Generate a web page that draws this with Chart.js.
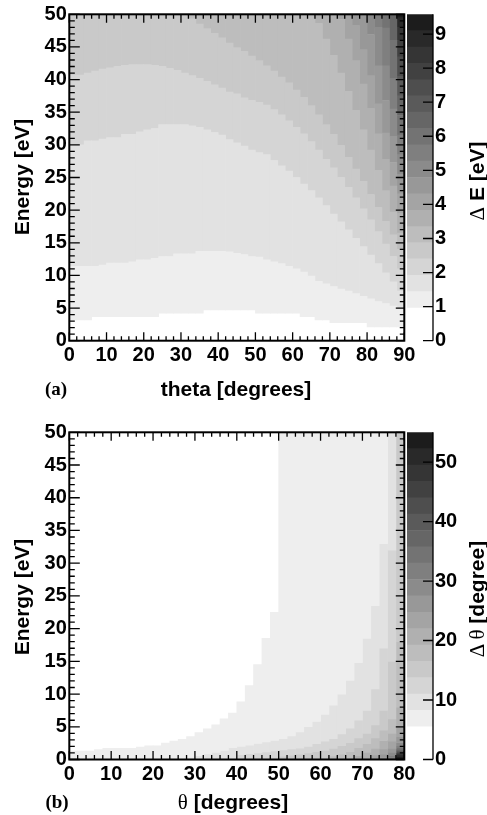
<!DOCTYPE html>
<html>
<head>
<meta charset="utf-8">
<script src="https://cdn.jsdelivr.net/npm/chart.js@4.4.1/dist/chart.umd.min.js"></script>
<style>
html,body{margin:0;padding:0;background:#fff;}
#page{position:relative;width:487px;height:815px;overflow:hidden;font-family:'Liberation Sans',Arial,sans-serif;}
canvas{position:absolute;}
.t{position:absolute;white-space:nowrap;font-weight:bold;font-size:21px;line-height:1;color:#000;transform:translate(-50%,-50%);}
.r{transform:translate(-50%,-50%) rotate(-90deg);}
.sym{font-family:'Liberation Serif',serif;font-weight:normal;}
.lab{font-family:'Liberation Serif',serif;font-size:19px;}
</style>
</head>
<body>
<div id="page">
<canvas id="mainA" width="440" height="410" style="left:0;top:0"></canvas>
<canvas id="mainB" width="440" height="405" style="left:0;top:410px"></canvas>
<canvas id="barA" width="81" height="410" style="left:406px;top:0"></canvas>
<canvas id="barB" width="81" height="405" style="left:406px;top:410px"></canvas>
<div class="t r" style="left:21px;top:177px">Energy [eV]</div>
<div class="t" style="left:236px;top:388px">theta [degrees]</div>
<div class="t lab" style="left:56px;top:388px">(a)</div>
<div class="t r" style="left:477px;top:181px"><span class="sym">&Delta;</span> E [eV]</div>
<div class="t r" style="left:21px;top:597px">Energy [eV]</div>
<div class="t" style="left:233px;top:802px"><span class="sym">&theta;</span> [degrees]</div>
<div class="t lab" style="left:57px;top:801px">(b)</div>
<div class="t r" style="left:477px;top:599px"><span class="sym">&Delta; &theta;</span> [degree]</div>
</div>
<script>
// ---------- axis ticks ----------
const energyTicks = [0,5,10,15,20,25,30,35,40,45,50];
const thetaTicksA = [0,10,20,30,40,50,60,70,80,90];
const thetaTicksB = [0,10,20,30,40,50,60,70,80];
const zTicksA = [0,1,2,3,4,5,6,7,8,9];
const zTicksB = [0,10,20,30,40,50];

// ---------- contour levels (colour-bar band edges) ----------
const levelsA = [0,0.48,0.96,1.44,1.92,2.40,2.88,3.35,3.83,4.31,4.79,5.27,5.75,6.23,6.71,7.19,7.66,8.14,8.62,9.10,9.58];
const levelsB = [0,2.75,5.5,8.25,11,13.75,16.5,19.25,22,24.75,27.5,30.25,33,35.75,38.5,41.25,44,46.75,49.5,52.25,55];

// ---------- panel (a): theta bin centres ----------
const thetaA = [1,3,5,7,9,11,13,15,17,19,21,23,25,27,29,31,33,35,37,39,41,43,45,47,49,51,53,55,57,59,61,63,65,67,69,71,73,75,77,79,81,83,85,87,89];

// energy (eV) at which Delta E crosses each level, per theta bin (50 = not reached)
const A_L2 = [3.2,3.2,3.2,3.7,3.7,3.7,3.7,3.7,3.7,3.7,3.7,3.7,4.2,4.2,4.2,4.2,4.2,4.2,4.7,4.7,4.7,4.7,4.7,4.7,4.7,4.2,4.2,4.2,4.2,4.2,4.2,3.7,3.7,3.2,3.2,2.75,2.75,2.75,2.75,2.75,2.1,2.1,2.1,2.1,2.1];
const A_L3 = [11.4,11.4,11.4,11.4,11.6,11.9,11.9,11.9,12.1,12.4,12.4,12.6,12.9,12.9,13.3,13.3,13.3,13.7,13.7,13.7,13.7,13.6,13.4,13.2,12.9,12.8,12.4,12.1,11.8,11.4,11.0,10.5,9.9,9.1,8.7,8.3,7.9,7.6,7.2,6.8,6.4,6.0,5.7,5.3,4.9];
const A_L4 = [30.0,30.0,30.6,30.6,30.9,31.1,31.1,31.6,31.6,32.0,32.3,32.5,33.1,33.1,33.1,33.1,32.9,32.7,32.3,31.9,31.5,30.8,30.3,29.8,29.2,28.8,28.5,27.6,26.8,26.0,25.0,24.0,23.0,21.9,20.7,19.4,18.2,17.0,15.7,14.4,13.1,11.8,10.4,9.0,7.6];
const A_L5 = [40.7,40.7,41.0,41.3,41.6,41.8,42.0,42.2,42.3,42.3,42.3,42.2,42.0,41.7,41.4,41.0,40.6,40.2,39.7,39.2,38.7,38.1,37.8,37.2,36.8,36.5,36.1,35.4,34.6,33.7,32.7,31.7,30.5,29.2,27.8,26.5,25.0,23.5,21.9,20.2,18.5,16.7,14.8,12.9,11.0];
const A_L6 = [50,50,50,50,50,50,50,50,50,50, 50,50,50,50,50,50,49.3,48.5,47.8,47.1,46.4,45.6,44.9,44.3,43.6,42.9,42.1,41.3,40.4,39.5,38.4,37.3,36.0,34.6,33.1,31.6,29.9,28.1,26.3,24.4,22.4,20.4,18.3,16.2,14.0];
const A_L7 = [50,50,50,50,50,50,50,50,50,50, 50,50,50,50,50,50,50,50,50,50, 50,50,50,50,50,50,50,50,50,50, 50,50,50,48.6,46.2,43.7,41.0,38.2,35.3,32.3,29.2,26.1,23.0,19.7,16.5];
const A_L8 = [50,50,50,50,50,50,50,50,50,50, 50,50,50,50,50,50,50,50,50,50, 50,50,50,50,50,50,50,50,50,50, 50,50,50,50,50,50,49.2,46.2,42.9,39.3,35.6,31.7,27.8,23.7,19.5];
const A_L9 = [50,50,50,50,50,50,50,50,50,50, 50,50,50,50,50,50,50,50,50,50, 50,50,50,50,50,50,50,50,50,50, 50,50,50,50,50,50,50,50,48.3,44.6,40.6,36.3,31.8,27.3,22.5];
const A_L10 = [50,50,50,50,50,50,50,50,50,50, 50,50,50,50,50,50,50,50,50,50, 50,50,50,50,50,50,50,50,50,50, 50,50,50,50,50,50,50,50,50,50,46.9,42.1,36.8,31.3,25.5];
const A_L11 = [50,50,50,50,50,50,50,50,50,50, 50,50,50,50,50,50,50,50,50,50, 50,50,50,50,50,50,50,50,50,50, 50,50,50,50,50,50,50,50,50,50, 50,48.0,42.1,35.5,28.5];
const A_L12 = [50,50,50,50,50,50,50,50,50,50, 50,50,50,50,50,50,50,50,50,50, 50,50,50,50,50,50,50,50,50,50, 50,50,50,50,50,50,50,50,50,50, 50,50,47.9,40.2,31.5];
const A_L13 = [50,50,50,50,50,50,50,50,50,50, 50,50,50,50,50,50,50,50,50,50, 50,50,50,50,50,50,50,50,50,50, 50,50,50,50,50,50,50,50,50,50, 50,50,50,46.0,34.5];
const A_L14 = [50,50,50,50,50,50,50,50,50,50, 50,50,50,50,50,50,50,50,50,50, 50,50,50,50,50,50,50,50,50,50, 50,50,50,50,50,50,50,50,50,50, 50,50,50,50,37.5];
const A_L15 = [50,50,50,50,50,50,50,50,50,50, 50,50,50,50,50,50,50,50,50,50, 50,50,50,50,50,50,50,50,50,50, 50,50,50,50,50,50,50,50,50,50, 50,50,50,50,40.5];
const A_L16 = [50,50,50,50,50,50,50,50,50,50, 50,50,50,50,50,50,50,50,50,50, 50,50,50,50,50,50,50,50,50,50, 50,50,50,50,50,50,50,50,50,50, 50,50,50,50,43.5];
const A_L17 = [50,50,50,50,50,50,50,50,50,50, 50,50,50,50,50,50,50,50,50,50, 50,50,50,50,50,50,50,50,50,50, 50,50,50,50,50,50,50,50,50,50, 50,50,50,50,46.0];
const A_L18 = [50,50,50,50,50,50,50,50,50,50, 50,50,50,50,50,50,50,50,50,50, 50,50,50,50,50,50,50,50,50,50, 50,50,50,50,50,50,50,50,50,50, 50,50,50,50,48.0];
const A_L19 = [50,50,50,50,50,50,50,50,50,50, 50,50,50,50,50,50,50,50,50,50, 50,50,50,50,50,50,50,50,50,50, 50,50,50,50,50,50,50,50,50,50, 50,50,50,50,49.5];

// ---------- panel (b): theta bin centres ----------
const thetaB = [1,3,5,7,9,11,13,15,17,19,21,23,25,27,29,31,33,35,37,39,41,43,45,47,49,51,53,55,57,59,61,63,65,67,69,71,73,75,77,79];

// energy (eV) at which Delta theta crosses each level, per theta bin (0 = never above level, 50 = above level everywhere)
const B_L2 = [1.3,1.3,1.3,1.5,1.7,1.7,1.7,1.7,1.9,2.1,2.1,2.5,2.8,3.1,3.5,4.1,4.7,5.3,6.2,7.1,8.8,11.3,14.5,18.5,22.5,50,50,50,50,50,50,50,50,50,50,50,50,50,50,50];
const B_L3 = [0,0,0,0,0,0,0,0,0,0, 0,0,0,0,0.3,0.6,0.85,1.1,1.4,1.8,2.0,2.2,2.45,2.7,2.9,3.2,3.6,4.2,5.0,5.8,6.9,8.3,10.0,12.1,14.8,18.5,23.5,33.0,50,50];
const B_L4 = [0,0,0,0,0,0,0,0,0,0, 0,0,0,0,0,0,0,0,0,0, 0.75,0.9,1.0,1.15,1.3,1.45,1.6,1.75,2.0,2.4,2.8,3.2,3.9,4.8,6.0,7.5,10.8,17,32,50];
const B_L5 = [0,0,0,0,0,0,0,0,0,0, 0,0,0,0,0,0,0,0,0,0, 0,0,0,0,0,0.5,0.65,0.8,1.0,1.2,1.4,1.7,2.1,2.6,3.3,4.0,5.3,7.5,15,50];
const B_L6 = [0,0,0,0,0,0,0,0,0,0, 0,0,0,0,0,0,0,0,0,0, 0,0,0,0,0,0,0,0,0,0, 0.3,0.55,0.8,1.2,1.8,2.4,3.3,4.5,6.2,18];
const B_L7 = [0,0,0,0,0,0,0,0,0,0, 0,0,0,0,0,0,0,0,0,0, 0,0,0,0,0,0,0,0,0,0, 0,0,0,0.2,0.6,1.1,1.7,2.9,4.0,8.0];
const B_L8 = [0,0,0,0,0,0,0,0,0,0, 0,0,0,0,0,0,0,0,0,0, 0,0,0,0,0,0,0,0,0,0, 0,0,0,0,0,0.2,0.7,1.6,2.8,5.0];
const B_L9 = [0,0,0,0,0,0,0,0,0,0, 0,0,0,0,0,0,0,0,0,0, 0,0,0,0,0,0,0,0,0,0, 0,0,0,0,0,0,0.2,0.8,1.7,3.5];
const B_L10 = [0,0,0,0,0,0,0,0,0,0, 0,0,0,0,0,0,0,0,0,0, 0,0,0,0,0,0,0,0,0,0, 0,0,0,0,0,0,0,0.3,1.1,2.6];
const B_L11 = [0,0,0,0,0,0,0,0,0,0, 0,0,0,0,0,0,0,0,0,0, 0,0,0,0,0,0,0,0,0,0, 0,0,0,0,0,0,0,0,0.6,2.1];
const B_L12 = [0,0,0,0,0,0,0,0,0,0, 0,0,0,0,0,0,0,0,0,0, 0,0,0,0,0,0,0,0,0,0, 0,0,0,0,0,0,0,0,0.3,1.8];
const B_L13 = [0,0,0,0,0,0,0,0,0,0, 0,0,0,0,0,0,0,0,0,0, 0,0,0,0,0,0,0,0,0,0, 0,0,0,0,0,0,0,0,0,1.55];
const B_L14 = [0,0,0,0,0,0,0,0,0,0, 0,0,0,0,0,0,0,0,0,0, 0,0,0,0,0,0,0,0,0,0, 0,0,0,0,0,0,0,0,0,1.35];
const B_L15 = [0,0,0,0,0,0,0,0,0,0, 0,0,0,0,0,0,0,0,0,0, 0,0,0,0,0,0,0,0,0,0, 0,0,0,0,0,0,0,0,0,1.2];
const B_L16 = [0,0,0,0,0,0,0,0,0,0, 0,0,0,0,0,0,0,0,0,0, 0,0,0,0,0,0,0,0,0,0, 0,0,0,0,0,0,0,0,0,1.05];
const B_L17 = [0,0,0,0,0,0,0,0,0,0, 0,0,0,0,0,0,0,0,0,0, 0,0,0,0,0,0,0,0,0,0, 0,0,0,0,0,0,0,0,0,0.9];
const B_L18 = [0,0,0,0,0,0,0,0,0,0, 0,0,0,0,0,0,0,0,0,0, 0,0,0,0,0,0,0,0,0,0, 0,0,0,0,0,0,0,0,0,0.7];
const B_L19 = [0,0,0,0,0,0,0,0,0,0, 0,0,0,0,0,0,0,0,0,0, 0,0,0,0,0,0,0,0,0,0, 0,0,0,0,0,0,0,0,0,0.45];

// ---------- gray palette (one colour per band) ----------
const grays = ['#ffffff','#ffffff','#eeeeee','#e2e2e2','#d5d5d5','#c9c9c9','#bdbdbd','#b0b0b0','#a4a4a4','#989898',
               '#8b8b8b','#7f7f7f','#737373','#666666','#5a5a5a','#4e4e4e','#414141','#353535','#292929','#1c1c1c'];

const crossA = {2:A_L2,3:A_L3,4:A_L4,5:A_L5,6:A_L6,7:A_L7,8:A_L8,9:A_L9,10:A_L10,11:A_L11,12:A_L12,13:A_L13,14:A_L14,15:A_L15,16:A_L16,17:A_L17,18:A_L18,19:A_L19};
const crossB = {2:B_L2,3:B_L3,4:B_L4,5:B_L5,6:B_L6,7:B_L7,8:B_L8,9:B_L9,10:B_L10,11:B_L11,12:B_L12,13:B_L13,14:B_L14,15:B_L15,16:B_L16,17:B_L17,18:B_L18,19:B_L19};

for (const [nm, cr, th] of [['A', crossA, thetaA], ['B', crossB, thetaB]]) {
  for (const k in cr) if (cr[k].length !== th.length) throw new Error(nm + '_L' + k + ' has ' + cr[k].length + ' values');
}

Chart.defaults.font.family = "'Liberation Sans', Arial, sans-serif";
const tickFont = {family: "'Liberation Sans', Arial, sans-serif", size: 20, weight: 'bold'};

function bandDatasets(theta, cross, edge) {
  const ds = [];
  for (let k = 2; k <= 19; k++) {
    const lo = cross[k], hi = k < 19 ? cross[k + 1] : null;
    const data = theta.map((t, i) => {
      const a = lo[i], b = hi ? hi[i] : edge;
      return a === b ? null : {x: t, y: [a, b]};
    }).filter(Boolean);
    ds.push({data, backgroundColor: grays[k], borderWidth: 0, grouped: false,
             barPercentage: 1, categoryPercentage: 1});
  }
  return ds;
}

const rootFrame = {
  id: 'rootFrame',
  afterDatasetsDraw(chart, args, o) {
    const {ctx, chartArea: a} = chart;
    const x = chart.scales.x, y = chart.scales.y;
    ctx.save();
    ctx.strokeStyle = '#000';
    ctx.lineWidth = 1.3;
    ctx.beginPath();
    for (let v = x.min; v <= x.max + 1e-9; v += o.xMinor) {
      const p = x.getPixelForValue(v);
      const L = Math.abs(v % o.xMajor) < 1e-9 ? 8.5 : 4.5;
      ctx.moveTo(p, a.bottom); ctx.lineTo(p, a.bottom - L);
      ctx.moveTo(p, a.top); ctx.lineTo(p, a.top + L);
    }
    for (let v = y.min; v <= y.max + 1e-9; v += o.yMinor) {
      const p = y.getPixelForValue(v);
      const major = Math.abs(v % o.yMajor) < 1e-9;
      ctx.moveTo(a.left, p); ctx.lineTo(a.left + (major ? 10.5 : 5.5), p);
      ctx.moveTo(a.right, p); ctx.lineTo(a.right - (major ? 8.5 : 4.5), p);
    }
    ctx.stroke();
    ctx.lineWidth = 2;
    ctx.strokeRect(a.left, a.top, a.right - a.left, a.bottom - a.top);
    ctx.restore();
  }
};

const zAxisLine = {
  id: 'zAxisLine',
  afterDatasetsDraw(chart) {
    const {ctx, chartArea: a} = chart;
    const y = chart.scales.y;
    ctx.save();
    ctx.strokeStyle = '#000';
    ctx.lineWidth = 1.3;
    ctx.beginPath();
    ctx.moveTo(a.right, a.top); ctx.lineTo(a.right, a.bottom);
    for (const t of y.ticks) {
      const p = y.getPixelForValue(t.value);
      ctx.moveTo(a.right, p); ctx.lineTo(a.right - 10, p);
    }
    ctx.stroke();
    ctx.restore();
  }
};

function mainChart(id, theta, cross, edge, xMax, xTicks, padTop, xAxisH) {
  return new Chart(document.getElementById(id), {
    type: 'bar',
    data: {datasets: bandDatasets(theta, cross, edge)},
    options: {
      responsive: false, animation: false, devicePixelRatio: 1,
      layout: {padding: {top: padTop, right: 35.7, left: 0, bottom: 0}},
      plugins: {legend: {display: false}, tooltip: {enabled: false},
                rootFrame: {xMinor: 2, xMajor: 10, yMinor: 1, yMajor: 5}},
      scales: {
        x: {type: 'linear', position: 'bottom', min: 0, max: xMax, offset: false,
            grid: {display: false, drawTicks: false}, border: {display: false},
            afterBuildTicks: s => { s.ticks = xTicks.map(v => ({value: v})); },
            afterFit: s => { s.height = xAxisH; s.paddingLeft = 0; s.paddingRight = 0; },
            ticks: {font: tickFont, color: '#000', padding: 2.5, maxRotation: 0, autoSkip: false}},
        y: {type: 'linear', position: 'left', min: 0, max: 50,
            grid: {display: false, drawTicks: false}, border: {display: false},
            afterBuildTicks: s => { s.ticks = energyTicks.map(v => ({value: v})); },
            afterFit: s => { s.width = 69.3; s.paddingTop = 0; s.paddingBottom = 0; },
            ticks: {font: tickFont, color: '#000', padding: 2.5, autoSkip: false}}
      }
    },
    plugins: [rootFrame]
  });
}

function colourBar(id, levels, zTicks, padTop, padBottom) {
  const datasets = levels.slice(0, -1).map((lv, k) => ({
    data: [[levels[k], levels[k + 1]]], backgroundColor: grays[k], borderWidth: 0,
    grouped: false, barPercentage: 1, categoryPercentage: 1
  }));
  return new Chart(document.getElementById(id), {
    type: 'bar',
    data: {labels: [''], datasets},
    options: {
      responsive: false, animation: false, devicePixelRatio: 1,
      layout: {padding: {top: padTop, bottom: padBottom, left: 1, right: 0}},
      plugins: {legend: {display: false}, tooltip: {enabled: false}},
      scales: {
        x: {type: 'category', display: false},
        y: {type: 'linear', position: 'right', min: 0, max: levels[levels.length - 1],
            grid: {display: false, drawTicks: false}, border: {display: false},
            afterBuildTicks: s => { s.ticks = zTicks.map(v => ({value: v})); },
            afterFit: s => { s.width = 54; s.paddingTop = 0; s.paddingBottom = 0; },
            ticks: {font: tickFont, color: '#000', padding: 2, autoSkip: false}}
      }
    },
    plugins: [zAxisLine]
  });
}

mainChart('mainA', thetaA, crossA, 50, 90, thetaTicksA, 14.3, 69.3);
colourBar('barA', levelsA, zTicksA, 14.3, 69.3);
mainChart('mainB', thetaB, crossB, 0, 80, thetaTicksB, 22.3, 55.5);
colourBar('barB', levelsB, zTicksB, 22.3, 55.5);
</script>
</body>
</html>
